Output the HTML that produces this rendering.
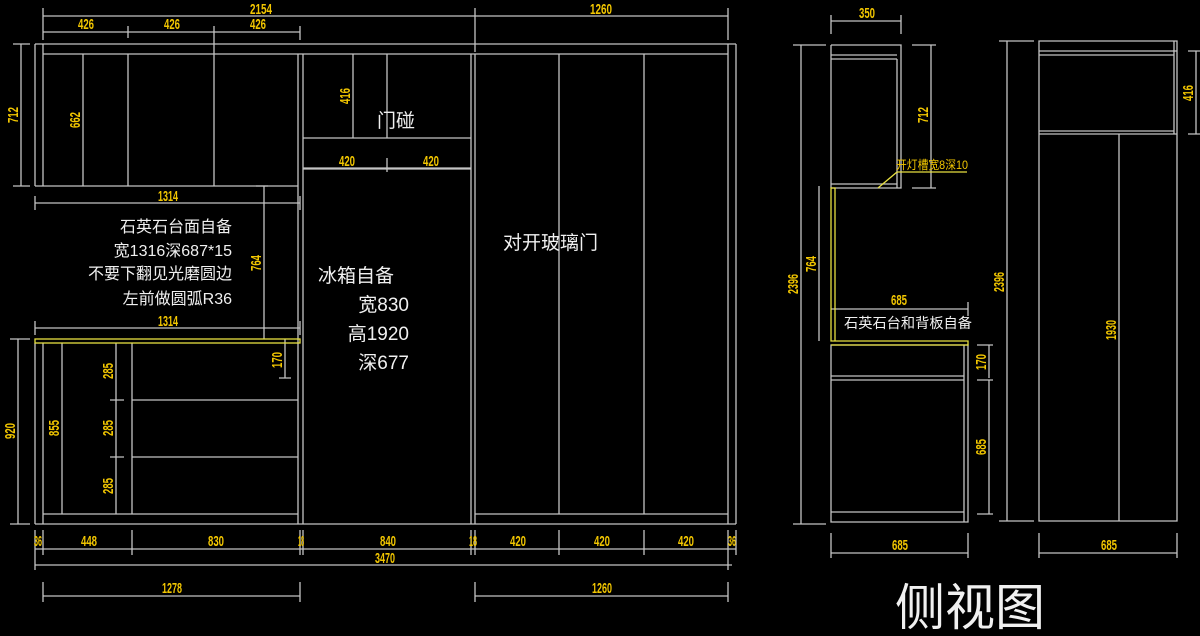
<!DOCTYPE html>
<html><head><meta charset="utf-8"><style>
html,body{margin:0;padding:0;background:#000;width:1200px;height:636px;overflow:hidden}
svg{display:block}
.l{stroke:#c4c4c4;stroke-width:1.3;fill:none}
.y{stroke:#e8e040;stroke-width:1.3;fill:none}
.d{fill:#f2c600;font-family:"Liberation Sans",sans-serif;font-size:15px;font-weight:bold}
.c{fill:#f0f0f0;font-family:"Liberation Sans","Noto Sans CJK SC",sans-serif}
</style></head><body>
<svg width="1200" height="636" viewBox="0 0 1200 636" xmlns="http://www.w3.org/2000/svg">
<g class="l">
<path d="M35 44H736M35 44V186M43 44V186M43 54H728M128 54V186M214 54V186M298 54V524M303 54V524M35 186H298"/>
<path d="M728 44V524M736 44V524M471 54V524M475 54V524M303 138H471M387 54V138M303 168H471"/>
<path d="M559 54V514M644 54V514M475 514H728"/>
<path d="M35 343V524M43 343V524M62 343V514M132 343V514M132 400H298M132 457H298M43 514H298M35 524H736"/>
<path d="M43 16H728M43 8V40M475 8V52M728 8V40M43 32H300M128 26V38M214 26V54M300 26V40"/>
<path d="M21 44V186M13 44H30M13 186H30M83 54V186M353 54V138M303 169H471M387 158V172M264 186V339M256 186H268"/>
<path d="M35 203H300M35 196V210M300 196V210M35 328H300M35 321V335M300 321V335"/>
<path d="M18 339V524M10 339H30M10 524H30M116 343V514M110 400H124M110 457H124M285 339V378M279 378H291"/>
<path d="M35 549H736M35 530V570M43 530V555M132 530V555M300 530V555M303 530V555M471 530V555M475 530V555M559 530V555M644 530V555M728 530V570M736 530V555"/>
<path d="M35 565H732M43 596H300M43 582V602M300 582V602M475 596H728M475 582V602M728 582V602"/>
<path d="M831 45H901V188H831M831 55H897M831 59H897M897 59V188M831 184H897M831 45V188"/>
<path d="M831 345H968V522H831ZM964 345V522M831 376H964M831 380H964M831 512H964M964 512V522"/>
<path d="M801 45V524M793 45H826M793 524H826M819 186V341M931 45V188M912 45H936M912 188H936"/>
<path d="M831 21H901M831 15V34M901 15V34M831 309H968M968 302V316M989 345V378M989 380V514M977 345H993M977 380H993M977 514H993"/>
<path d="M831 553H968M831 533V558M968 533V558"/>
<path d="M1039 41H1177V521H1039ZM1039 51H1177M1039 55H1174M1039 131H1174M1039 134H1177M1174 41V134M1119 134V521"/>
<path d="M1007 41V521M999 41H1034M999 521H1034M1196 51V134M1188 51H1200M1188 134H1200M1039 553H1177M1039 533V558M1177 533V558"/>
</g>
<g class="y">
<rect x="35" y="339" width="265" height="4"/>
<path d="M831 188V341H835V188ZM831 341H968V345H831M897 172H967M878 188L897 172"/>
</g>
<g class="d">
<text x="250" y="14" textLength="22" lengthAdjust="spacingAndGlyphs">2154</text>
<text x="78" y="29" textLength="16" lengthAdjust="spacingAndGlyphs">426</text>
<text x="164" y="29" textLength="16" lengthAdjust="spacingAndGlyphs">426</text>
<text x="250" y="29" textLength="16" lengthAdjust="spacingAndGlyphs">426</text>
<text x="590" y="14" textLength="22" lengthAdjust="spacingAndGlyphs">1260</text>
<text x="158" y="201" textLength="20" lengthAdjust="spacingAndGlyphs">1314</text>
<text x="158" y="326" textLength="20" lengthAdjust="spacingAndGlyphs">1314</text>
<text x="339" y="166" textLength="16" lengthAdjust="spacingAndGlyphs">420</text>
<text x="423" y="166" textLength="16" lengthAdjust="spacingAndGlyphs">420</text>
<text transform="translate(18 115) rotate(-90)" text-anchor="middle" textLength="16" lengthAdjust="spacingAndGlyphs">712</text>
<text transform="translate(80 120) rotate(-90)" text-anchor="middle" textLength="16" lengthAdjust="spacingAndGlyphs">662</text>
<text transform="translate(350 96) rotate(-90)" text-anchor="middle" textLength="16" lengthAdjust="spacingAndGlyphs">416</text>
<text transform="translate(261 263) rotate(-90)" text-anchor="middle" textLength="16" lengthAdjust="spacingAndGlyphs">764</text>
<text transform="translate(282 360) rotate(-90)" text-anchor="middle" textLength="16" lengthAdjust="spacingAndGlyphs">170</text>
<text transform="translate(15 431) rotate(-90)" text-anchor="middle" textLength="16" lengthAdjust="spacingAndGlyphs">920</text>
<text transform="translate(59 428) rotate(-90)" text-anchor="middle" textLength="16" lengthAdjust="spacingAndGlyphs">855</text>
<text transform="translate(113 371) rotate(-90)" text-anchor="middle" textLength="16" lengthAdjust="spacingAndGlyphs">285</text>
<text transform="translate(113 428) rotate(-90)" text-anchor="middle" textLength="16" lengthAdjust="spacingAndGlyphs">285</text>
<text transform="translate(113 486) rotate(-90)" text-anchor="middle" textLength="16" lengthAdjust="spacingAndGlyphs">285</text>
<text x="34" y="546" textLength="8" lengthAdjust="spacingAndGlyphs">36</text>
<text x="81" y="546" textLength="16" lengthAdjust="spacingAndGlyphs">448</text>
<text x="208" y="546" textLength="16" lengthAdjust="spacingAndGlyphs">830</text>
<text x="298" y="546" textLength="6" lengthAdjust="spacingAndGlyphs">18</text>
<text x="380" y="546" textLength="16" lengthAdjust="spacingAndGlyphs">840</text>
<text x="469" y="546" textLength="8" lengthAdjust="spacingAndGlyphs">18</text>
<text x="510" y="546" textLength="16" lengthAdjust="spacingAndGlyphs">420</text>
<text x="594" y="546" textLength="16" lengthAdjust="spacingAndGlyphs">420</text>
<text x="678" y="546" textLength="16" lengthAdjust="spacingAndGlyphs">420</text>
<text x="728" y="546" textLength="8" lengthAdjust="spacingAndGlyphs">36</text>
<text x="375" y="563" textLength="20" lengthAdjust="spacingAndGlyphs">3470</text>
<text x="162" y="593" textLength="20" lengthAdjust="spacingAndGlyphs">1278</text>
<text x="592" y="593" textLength="20" lengthAdjust="spacingAndGlyphs">1260</text>
<text x="859" y="18" textLength="16" lengthAdjust="spacingAndGlyphs">350</text>
<text x="891" y="305" textLength="16" lengthAdjust="spacingAndGlyphs">685</text>
<text x="892" y="550" textLength="16" lengthAdjust="spacingAndGlyphs">685</text>
<text x="1101" y="550" textLength="16" lengthAdjust="spacingAndGlyphs">685</text>
<text transform="translate(798 284) rotate(-90)" text-anchor="middle" textLength="20" lengthAdjust="spacingAndGlyphs">2396</text>
<text transform="translate(816 264) rotate(-90)" text-anchor="middle" textLength="16" lengthAdjust="spacingAndGlyphs">764</text>
<text transform="translate(928 115) rotate(-90)" text-anchor="middle" textLength="16" lengthAdjust="spacingAndGlyphs">712</text>
<text transform="translate(986 362) rotate(-90)" text-anchor="middle" textLength="16" lengthAdjust="spacingAndGlyphs">170</text>
<text transform="translate(986 447) rotate(-90)" text-anchor="middle" textLength="16" lengthAdjust="spacingAndGlyphs">685</text>
<text transform="translate(1004 282) rotate(-90)" text-anchor="middle" textLength="20" lengthAdjust="spacingAndGlyphs">2396</text>
<text transform="translate(1193 93) rotate(-90)" text-anchor="middle" textLength="16" lengthAdjust="spacingAndGlyphs">416</text>
<text transform="translate(1116 330) rotate(-90)" text-anchor="middle" textLength="20" lengthAdjust="spacingAndGlyphs">1930</text>
</g>
<g fill="#f2c600" font-family="'Liberation Sans','Noto Sans CJK SC',sans-serif" font-size="12">
<text x="896" y="169" textLength="72" lengthAdjust="spacingAndGlyphs">开灯槽宽8深10</text>
</g>
<g class="c" font-size="16" text-anchor="end">
<text x="232" y="232">石英石台面自备</text>
<text x="232" y="256">宽1316深687*15</text>
<text x="232" y="279">不要下翻见光磨圆边</text>
<text x="232" y="304">左前做圆弧R36</text>
</g>
<g class="c" font-size="19">
<text x="377" y="127">门碰</text>
<text x="318" y="282">冰箱自备</text>
<text x="409" y="311" text-anchor="end">宽830</text>
<text x="409" y="340" text-anchor="end">高1920</text>
<text x="409" y="369" text-anchor="end">深677</text>
<text x="503" y="249">对开玻璃门</text>
</g>
<text class="c" x="844" y="328" font-size="14" textLength="128" lengthAdjust="spacingAndGlyphs">石英石台和背板自备</text>
<text class="c" x="895" y="625" font-size="50">侧视图</text>
</svg>
</body></html>
